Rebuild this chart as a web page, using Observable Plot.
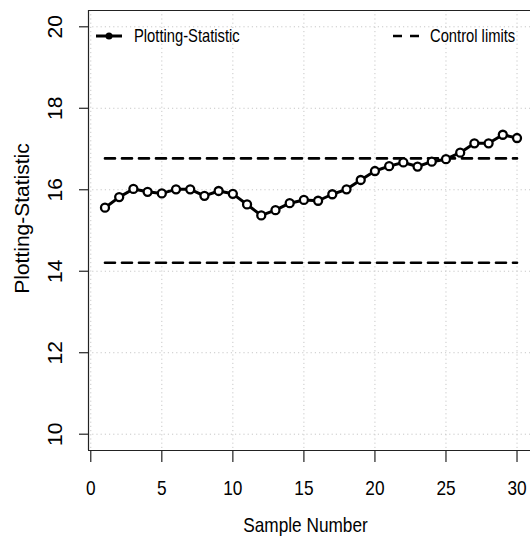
<!DOCTYPE html>
<html>
<head>
<meta charset="utf-8">
<script src="https://cdn.jsdelivr.net/npm/d3@7"></script>
<script src="https://cdn.jsdelivr.net/npm/@observablehq/plot@0.6"></script>
<style>
  html, body { margin: 0; padding: 0; background: #fff; }
  #chart svg { display: block; }
</style>
</head>
<body>
<div id="chart"></div>
<script>
const samples = [1,2,3,4,5,6,7,8,9,10,11,12,13,14,15,16,17,18,19,20,21,22,23,24,25,26,27,28,29,30];
const statistic = [15.56,15.82,16.02,15.95,15.91,16.01,16.01,15.85,15.97,15.90,15.64,15.37,15.50,15.67,15.75,15.73,15.89,16.01,16.24,16.46,16.58,16.67,16.57,16.69,16.75,16.91,17.14,17.14,17.35,17.27];
const upperLimit = 16.77;
const lowerLimit = 14.21;
const xTicks = [0,5,10,15,20,25,30];
const yTicks = [10,12,14,16,18,20];
const xDomain = [-0.16, 31.16];
const yDomain = [9.6, 20.4];

const FONT = "'Liberation Sans', Arial, Helvetica, sans-serif";

const points = samples.map((s, i) => ({sample: s, value: statistic[i]}));
const limits = [upperLimit, lowerLimit].flatMap((v, k) => [
  {sample: samples[0], value: v, k},
  {sample: samples[samples.length - 1], value: v, k}
]);

const plot = Plot.plot({
  width: 530,
  height: 541,
  marginLeft: 88,
  marginTop: 10,
  marginRight: 0,
  marginBottom: 91,
  style: {fontFamily: FONT, fontSize: "21px", color: "#000", background: "#fff"},
  x: {domain: xDomain, range: [88, 533], axis: null},
  y: {domain: yDomain, range: [450, 10], axis: null},
  marks: [
    Plot.gridX(xTicks, {stroke: "#c8c8c8", strokeOpacity: 1, strokeDasharray: "1.2,3", strokeWidth: 1}),
    Plot.gridY(yTicks, {stroke: "#c8c8c8", strokeOpacity: 1, strokeDasharray: "1.2,3", strokeWidth: 1}),
    Plot.ruleX([xDomain[0]], {stroke: "#222", strokeWidth: 1.2}),
    Plot.ruleY([yDomain[0], yDomain[1]], {stroke: "#222", strokeWidth: 1.2}),
    Plot.axisX({ticks: xTicks, tickSize: 12, tickFormat: () => "", label: null, stroke: "#222", strokeWidth: 1.2}),
    Plot.axisY({ticks: yTicks, tickSize: 9, tickFormat: () => "", label: null, stroke: "#222", strokeWidth: 1.2}),
    Plot.text(xTicks, {x: d => d, text: d => String(d), frameAnchor: "bottom", dy: 38, lineAnchor: "middle", fontSize: 21, fill: "#000", className: "narrow"}),
    Plot.text(yTicks, {y: d => d, text: d => String(d), frameAnchor: "left", dx: -33, rotate: -90, textAnchor: "middle", lineAnchor: "middle", fontSize: 21, fill: "#000"}),
    Plot.text(["Sample Number"], {frameAnchor: "bottom", dy: 75, dx: -4, lineAnchor: "middle", fontSize: 21, fill: "#000", className: "narrow"}),
    Plot.text(["Plotting-Statistic"], {frameAnchor: "left", dx: -66, dy: -12, rotate: -90, textAnchor: "middle", lineAnchor: "middle", fontSize: 21, fill: "#000"}),
    Plot.line(limits, {x: "sample", y: "value", z: "k", stroke: "#000", strokeWidth: 2.6, strokeDasharray: "10,7"}),
    Plot.line(points, {x: "sample", y: "value", stroke: "#000", strokeWidth: 3}),
    Plot.dot(points, {x: "sample", y: "value", r: 4, fill: "#fff", stroke: "#000", strokeWidth: 2.3})
  ]
});

// legend inside the plot box
const svg = d3.select(plot);
const lg = svg.append("g").attr("font-family", FONT).attr("font-size", 18).attr("fill", "#000").attr("text-anchor", "start");
lg.append("line").attr("x1", 96).attr("x2", 122).attr("y1", 36).attr("y2", 36).attr("stroke", "#000").attr("stroke-width", 3);
lg.append("circle").attr("cx", 109).attr("cy", 36).attr("r", 3.5).attr("fill", "#000");
lg.append("text").attr("transform", "translate(134,36) scale(0.82,1)").attr("dy", "0.35em").text("Plotting-Statistic");
lg.append("line").attr("x1", 393).attr("x2", 420).attr("y1", 36).attr("y2", 36).attr("stroke", "#000").attr("stroke-width", 2.6).attr("stroke-dasharray", "9,8");
lg.append("text").attr("transform", "translate(430,36) scale(0.82,1)").attr("dy", "0.35em").text("Control limits");

document.getElementById("chart").appendChild(plot);

// horizontal texts of the original are drawn in a condensed sans
plot.querySelectorAll("g.narrow text").forEach(t => {
  const w = t.getComputedTextLength();
  if (w > 0) {
    t.setAttribute("textLength", (w * 0.82).toFixed(1));
    t.setAttribute("lengthAdjust", "spacingAndGlyphs");
  }
});
</script>
</body>
</html>
